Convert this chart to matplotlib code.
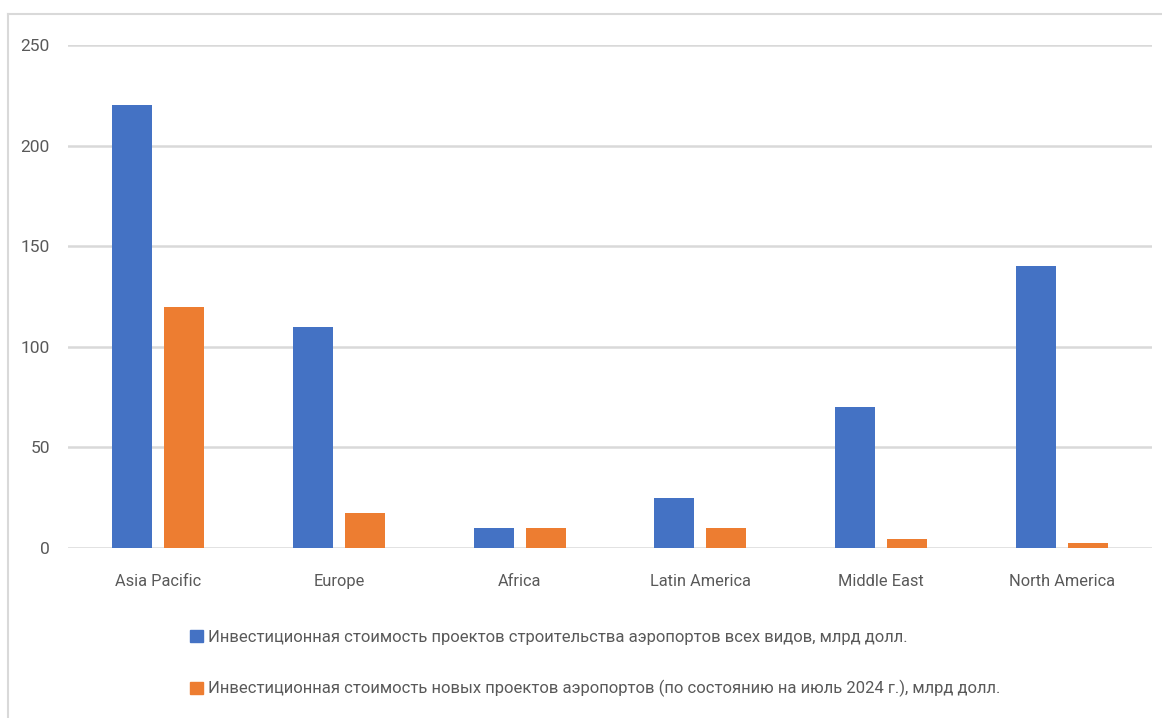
import matplotlib
matplotlib.use("Agg")
import matplotlib.pyplot as plt
from matplotlib.lines import Line2D
from matplotlib.patches import Patch
import numpy as np

regions = ["Asia Pacific", "Europe", "Africa", "Latin America", "Middle East", "North America"]
all_projects = [220, 110, 10, 25, 70, 140]
new_projects = [120, 17.5, 10, 10, 4.5, 2.5]
series_names = [
    "Инвестиционная стоимость проектов строительства аэропортов всех видов, млрд долл.",
    "Инвестиционная стоимость новых проектов аэропортов (по состоянию на июль 2024 г.), млрд долл.",
]
y_ticks = [0, 50, 100, 150, 200, 250]

BLUE = "#4472c4"
ORANGE = "#ed7d31"
GRID = "#d9d9d9"
TEXT = "#595959"

plt.rcParams["font.family"] = ["Roboto", "DejaVu Sans"]

W, H = 1162, 718
fig = plt.figure(figsize=(W / 100, H / 100), dpi=100)
ax = fig.add_axes([68 / W, 1 - 548 / H, (1152 - 68) / W, (548 - 45) / H])

x = np.arange(len(regions))
bw = 0.221
ax.bar(x - 0.144, all_projects, bw, color=BLUE, zorder=3)
ax.bar(x + 0.144, new_projects, bw, color=ORANGE, zorder=3)

ax.set_xlim(-0.5, len(regions) - 0.5)
ax.set_ylim(0, 250)
ax.set_yticks(y_ticks)
ax.set_xticks(x)
ax.set_xticklabels(regions)
ax.tick_params(axis="both", length=0, labelsize=12.5, colors=TEXT)
ax.tick_params(axis="x", labelsize=11.8, pad=19)
ax.tick_params(axis="y", pad=13)
ax.yaxis.grid(True, color=GRID, linewidth=1.8, zorder=0)
for s in ax.spines.values():
    s.set_visible(False)

# chart frame (top and left edges)
fig.add_artist(Line2D([8 / W, 8 / W], [0, 1 - 14 / H], color=GRID, linewidth=1.5))
fig.add_artist(Line2D([8 / W, 1], [1 - 14 / H, 1 - 14 / H], color=GRID, linewidth=1.5))

handles = [Patch(color=BLUE), Patch(color=ORANGE)]
fig.legend(handles, series_names, loc="upper left",
           bbox_to_anchor=(190 / W, 1 - 630 / H), frameon=False,
           fontsize=12.0, labelcolor=TEXT, handlelength=0.75, handleheight=0.75,
           handletextpad=0.35, labelspacing=2.1, borderaxespad=0, borderpad=0)

fig.savefig("out.png", dpi=100)
